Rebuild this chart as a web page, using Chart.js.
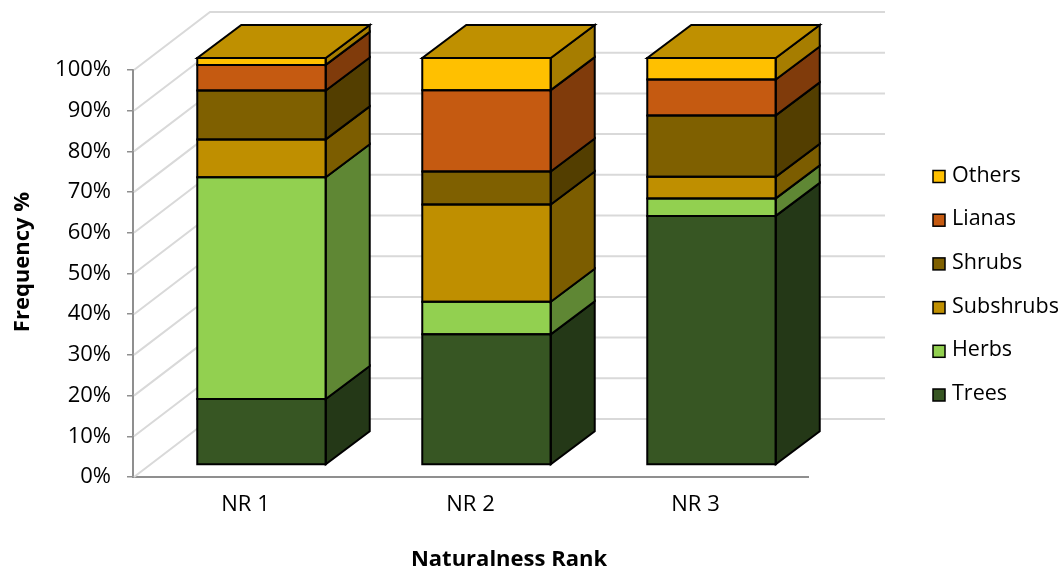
<!DOCTYPE html>
<html>
<head>
<meta charset="utf-8">
<title>Frequency by Naturalness Rank</title>
<script src="https://cdn.jsdelivr.net/npm/chart.js@4.4.1/dist/chart.umd.min.js"></script>
<style>
  html, body { margin: 0; padding: 0; background: #ffffff; }
  canvas { display: block; }
</style>
</head>
<body>
<canvas id="chart" width="1062" height="574"></canvas>
<script>
// Categories and stacked shares (percent of species in each life form)
const categories = ['NR 1', 'NR 2', 'NR 3'];
const trees     = [16.2, 32.1, 61.2];
const herbs     = [54.5,  8.0,  4.3];
const subshrubs = [ 9.3, 23.9,  5.3];
const shrubs    = [12.0,  8.1, 15.1];
const lianas    = [ 6.3, 20.0,  8.8];
const others    = [ 1.7,  7.9,  5.3];

const seriesNames  = ['Trees', 'Herbs', 'Subshrubs', 'Shrubs', 'Lianas', 'Others'];
const seriesValues = [trees, herbs, subshrubs, shrubs, lianas, others];
const seriesColors = ['#375623', '#92d050', '#bf8f00', '#7f6000', '#c55a11', '#ffc000'];

const yTickLabels = ['0%', '10%', '20%', '30%', '40%', '50%', '60%', '70%', '80%', '90%', '100%'];
const yAxisTitle = 'Frequency %';
const xAxisTitle = 'Naturalness Rank';

// 3-D projection offsets (pixels)
const BAR_SHIFT = { x: 16, y: -12 };   // bar front plane relative to the axis plane
const BAR_DEPTH = { x: 44, y: -33 };   // depth of each column
const WALL      = { x: 77, y: -58 };   // back wall relative to the axis plane

const FONT = "'Open Sans', 'Noto Sans', sans-serif";

function shade(hex, f) {
  const n = parseInt(hex.slice(1), 16);
  const r = Math.round(((n >> 16) & 255) * f);
  const g = Math.round(((n >> 8) & 255) * f);
  const b = Math.round((n & 255) * f);
  return `rgb(${r},${g},${b})`;
}

function poly(ctx, pts, fill) {
  ctx.beginPath();
  ctx.moveTo(pts[0][0], pts[0][1]);
  for (let i = 1; i < pts.length; i++) ctx.lineTo(pts[i][0], pts[i][1]);
  ctx.closePath();
  ctx.fillStyle = fill;
  ctx.fill();
  ctx.stroke();
}

// Walls behind the columns, and the depth faces of every stacked segment
const threeD = {
  id: 'threeD',
  beforeDatasetsDraw(chart) {
    const { ctx, chartArea, scales } = chart;
    const y = scales.y;
    ctx.save();
    ctx.strokeStyle = '#d9d9d9';
    ctx.lineWidth = 2;
    y.ticks.forEach(t => {
      const py = y.getPixelForValue(t.value);
      ctx.beginPath();
      ctx.moveTo(chartArea.left + 1, py);
      ctx.lineTo(chartArea.left + WALL.x, py + WALL.y);
      ctx.lineTo(chartArea.right + WALL.x, py + WALL.y);
      ctx.stroke();
    });
    ctx.restore();
    ctx.save();
    ctx.translate(BAR_SHIFT.x, BAR_SHIFT.y);
  },
  afterDatasetsDraw(chart) {
    const { ctx } = chart;
    ctx.lineJoin = 'miter';
    ctx.strokeStyle = '#000000';
    ctx.lineWidth = 2;
    const n = chart.data.labels.length;
    for (let i = 0; i < n; i++) {
      let top = null;
      chart.data.datasets.forEach((ds, d) => {
        if (!chart.isDatasetVisible(d)) return;
        const el = chart.getDatasetMeta(d).data[i];
        const { x, y, base, width } = el.getProps(['x', 'y', 'base', 'width'], true);
        const l = x - width / 2, r = x + width / 2;
        // right-hand side face
        poly(ctx, [[r, y], [r + BAR_DEPTH.x, y + BAR_DEPTH.y], [r + BAR_DEPTH.x, base + BAR_DEPTH.y], [r, base]],
             shade(ds.backgroundColor, 0.65));
        // outline of the front face
        ctx.beginPath();
        ctx.rect(l, y, width, base - y);
        ctx.stroke();
        top = { l, r, y, color: ds.backgroundColor };
      });
      if (top) {
        poly(ctx, [[top.l, top.y], [top.r, top.y], [top.r + BAR_DEPTH.x, top.y + BAR_DEPTH.y], [top.l + BAR_DEPTH.x, top.y + BAR_DEPTH.y]],
             shade(top.color, 0.75));
      }
    }
    ctx.restore();
  },
  afterDraw(chart) {
    const { ctx, chartArea } = chart;
    ctx.save();
    ctx.fillStyle = '#000000';
    ctx.font = `bold 22px ${FONT}`;
    ctx.textAlign = 'center';
    ctx.textBaseline = 'middle';
    // axis titles
    ctx.fillText(xAxisTitle, (chartArea.left + chartArea.right + WALL.x) / 2, 560);
    ctx.save();
    ctx.translate(23, 262);
    ctx.rotate(-Math.PI / 2);
    ctx.fillText(yAxisTitle, 0, 0);
    ctx.restore();

    // legend, top series first
    ctx.font = `21.5px ${FONT}`;
    ctx.textAlign = 'left';
    const ds = chart.data.datasets;
    for (let k = 0; k < ds.length; k++) {
      const d = ds[ds.length - 1 - k];
      const cy = 175.5 + k * 43.7;
      ctx.fillStyle = d.backgroundColor;
      ctx.fillRect(933, cy - 5, 12, 12);
      ctx.strokeStyle = '#000000';
      ctx.lineWidth = 1.5;
      ctx.strokeRect(933, cy - 5, 12, 12);
      ctx.fillStyle = '#000000';
      ctx.fillText(d.label, 952, cy);
    }
    ctx.restore();
  }
};

new Chart(document.getElementById('chart'), {
  type: 'bar',
  data: {
    labels: categories,
    datasets: seriesNames.map((name, i) => ({
      label: name,
      data: seriesValues[i],
      backgroundColor: seriesColors[i],
      borderWidth: 0,
      clip: false,
      categoryPercentage: 1,
      barPercentage: 0.571
    }))
  },
  options: {
    responsive: false,
    animation: false,
    devicePixelRatio: 1,
    layout: { padding: { left: 0, right: 254, top: 70, bottom: 0 } },
    font: { family: FONT },
    plugins: {
      legend: { display: false },
      tooltip: { enabled: false }
    },
    scales: {
      x: {
        stacked: true,
        grid: { display: true, drawOnChartArea: false, drawTicks: false },
        border: { display: true, color: '#8f8f8f', width: 2 },
        ticks: { color: '#000000', padding: 15, font: { family: FONT, size: 22 } },
        afterFit(scale) { scale.height = 97; }
      },
      y: {
        stacked: true,
        min: 0,
        max: 100,
        grid: { display: true, drawOnChartArea: false, drawTicks: true, tickLength: 6, color: '#8f8f8f', lineWidth: 1.5 },
        border: { display: true, color: '#8f8f8f', width: 2 },
        ticks: {
          stepSize: 10,
          padding: 16,
          color: '#000000',
          font: { family: FONT, size: 22 },
          callback: (v) => yTickLabels[Math.round(v / 10)]
        },
        afterFit(scale) { scale.width = 133; }
      }
    }
  },
  plugins: [threeD]
});
</script>
</body>
</html>
